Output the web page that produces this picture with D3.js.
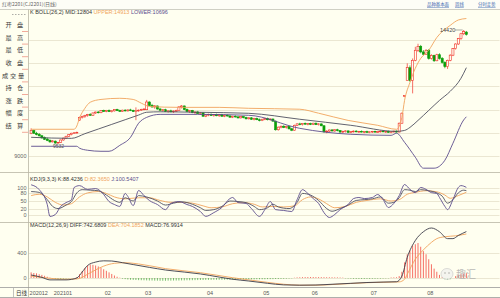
<!DOCTYPE html>
<html lang="zh">
<head>
<meta charset="utf-8">
<title>红枣2201 日线</title>
<script src="https://cdnjs.cloudflare.com/ajax/libs/d3/7.8.5/d3.min.js"></script>
<style>
  html, body { margin: 0; padding: 0; background: #fffff0; }
  svg { display: block; font-family: "Liberation Sans", Arial, sans-serif; }
  .cn { font-family: "Noto Sans CJK SC", sans-serif; }
</style>
</head>
<body>
<svg width="500" height="298"></svg>
<script>
// ---- daily bars, CJ2201 (Dec 2020 - Aug 2021) ----
var open = [
  9990,10100,9990,9940,9880,9800,9740,9690,9620,9650,
  9570,9600,9700,9780,9860,9930,9990,10010,10550,10660,
  10700,10750,10790,10760,10860,10900,10870,10960,10930,10970,
  10920,10950,11010,10960,10930,10980,10950,10990,10970,10930,
  10950,10980,11010,11000,11330,11180,11120,11160,11030,10980,
  11000,10930,10950,10910,10940,10960,11120,11160,11010,10930,
  10960,10880,10900,10840,10860,10720,10770,10800,10750,10790,
  10740,10780,10720,10760,10730,10680,10720,10690,10650,10700,
  10660,10610,10650,10590,10620,10570,10530,10590,10620,10570,
  10600,10510,10140,10250,10290,10240,10280,10180,10120,10330,
  10390,10360,10410,10380,10400,10370,10420,10360,10390,10310,
  10050,10080,10130,10090,10140,10100,10040,10070,10090,10030,
  10060,10080,10050,10070,10040,10060,10030,10050,10070,10040,
  10060,10080,10050,10070,10030,10050,10080,10040,10420,11560,
  12260,12800,12260,13120,13550,13720,13480,13380,13550,13200,
  13330,13100,13360,13200,13030,12850,13120,13340,13620,13820,
  14050,14260,14330];
var high = [
  10200,10140,10050,10000,9920,9850,9800,9720,9700,9680,
  9620,9720,9800,9880,9950,10010,10040,10060,10700,10740,
  10780,10820,10850,10880,10920,10940,10980,11000,10990,11010,
  10980,11030,11040,11000,11000,11020,11010,11040,11000,11100,
  11010,11040,11060,11420,11360,11250,11200,11180,11080,11030,
  11040,10980,11000,10970,11000,11150,11200,11180,11050,10990,
  10990,10930,10950,10900,10880,10800,10830,10840,10810,10830,
  10800,10820,10790,10800,10770,10740,10760,10740,10720,10730,
  10700,10680,10680,10650,10660,10620,10610,10650,10660,10630,
  10620,10530,10280,10320,10330,10310,10300,10220,10360,10420,
  10440,10430,10450,10430,10440,10440,10450,10420,10410,10330,
  10120,10150,10170,10160,10180,10130,10100,10120,10110,10080,
  10110,10120,10090,10110,10080,10100,10070,10090,10100,10090,
  10110,10120,10090,10100,10080,10100,10110,10450,10880,11620,
  12990,12900,13200,13700,13830,13780,13560,13600,13600,13380,
  13360,13400,13420,13260,13080,13150,13380,13650,13850,14080,
  14300,14420,14380];
var low = [
  9950,9960,9900,9850,9760,9700,9650,9580,9590,9540,
  9532,9580,9670,9740,9830,9900,9960,9980,10520,10620,
  10650,10700,10740,10740,10820,10840,10850,10900,10890,10900,
  10880,10920,10940,10900,10910,10920,10920,10940,10900,10550,
  10910,10950,10970,10980,11150,11080,11040,11000,10940,10920,
  10900,10870,10890,10860,10900,10940,11050,10980,10900,10860,
  10850,10800,10820,10780,10700,10680,10720,10730,10700,10720,
  10690,10700,10680,10700,10650,10640,10660,10620,10620,10630,
  10580,10580,10560,10540,10550,10500,10510,10550,10540,10530,
  10480,10100,10100,10200,10210,10190,10150,10080,10100,10300,
  10330,10320,10350,10330,10340,10340,10340,10320,10290,10020,
  9990,10040,10060,10050,10070,10010,10000,10020,10000,9990,
  10020,10030,10000,10020,9990,10010,9990,10000,10010,10000,
  10020,10030,10000,10010,9990,10010,10020,10030,10400,11540,
  12260,12200,11700,13080,13480,13420,13330,13350,13150,13150,
  13050,13080,13150,12980,12780,12750,13080,13300,13580,13780,
  14000,14200,14180];
var close = [
  10110,9990,9930,9880,9790,9730,9680,9620,9660,9570,
  9600,9700,9780,9860,9930,9990,10010,10030,10660,10700,
  10750,10790,10760,10860,10900,10870,10960,10930,10970,10920,
  10950,11010,10960,10930,10980,10950,10990,10970,10920,10950,
  10980,11010,11030,11330,11180,11120,11160,11030,10980,11000,
  10930,10950,10910,10940,10960,11120,11160,11010,10930,10960,
  10880,10900,10840,10860,10720,10770,10800,10750,10790,10740,
  10780,10720,10760,10730,10680,10720,10690,10650,10700,10660,
  10610,10650,10590,10620,10570,10530,10590,10620,10570,10600,
  10510,10140,10250,10290,10240,10280,10180,10120,10330,10390,
  10360,10410,10380,10400,10370,10420,10360,10390,10310,10050,
  10080,10130,10090,10140,10100,10040,10070,10090,10030,10060,
  10080,10050,10070,10040,10060,10030,10050,10070,10040,10060,
  10080,10050,10070,10030,10050,10080,10040,10420,10850,11610,
  12810,12260,13120,13550,13720,13480,13380,13550,13200,13330,
  13100,13360,13200,13030,12850,13120,13340,13620,13820,14050,
  14260,14350,14230];

// month labels and the bar index where each month starts
var monthLabels = ["202012", "202101", "02", "03", "04", "05", "06", "07", "08"];
var monthStart = [0, 9, 28, 43, 66, 87, 105, 127, 148];

// BOLL(26,2): [bar index, price]
var bollUpper = [[0,10160],[16,10160],[17,10300],[18,10640],[20,11060],[22,11320],[26,11440],[33,11490],
  [38,11440],[41,11280],[44,11140],[55,11100],[70,11100],[81,11060],[100,11020],[107,10850],[118,10540],
  [129,10330],[136,10160],[138,10670],[139,11400],[141,12170],[143,12780],[145,13200],[148,13550],
  [151,14100],[156,14620],[159,14850],[162,14913]];
var bollMid = [[0,9815],[15,9770],[20,9970],[25,10170],[30,10370],[35,10570],[40,10770],[43,10890],
  [48,10910],[62,10890],[81,10845],[100,10590],[119,10330],[136,10070],[139,10110],[141,10240],
  [144,10540],[148,10970],[152,11400],[156,11790],[160,12350],[162,12804]];
var bollLower = [[0,9430],[17,9430],[18,9350],[21,9260],[26,9215],[29,9215],[33,9470],[37,9815],
  [40,10420],[43,10670],[48,10800],[62,10800],[81,10760],[100,10200],[119,9945],[134,9900],[136,9990],
  [139,9600],[143,8960],[146,8490],[150,8490],[154,8830],[157,9560],[161,10560],[162,10696]];

// KDJ(9,3,3): [bar index, value]
var kdjK = [[0,85],[3,82],[6,55],[8,30],[10,22],[13,35],[15,48],[17,80],[19,92],[22,90],[25,88],[28,72],
  [31,52],[33,45],[35,62],[38,50],[40,70],[43,65],[47,50],[50,35],[53,42],[56,47],[60,38],[63,25],[65,15],
  [68,18],[71,30],[74,50],[77,48],[80,44],[83,30],[85,18],[88,25],[90,38],[92,28],[96,22],[99,45],[101,78],
  [104,72],[107,52],[110,22],[112,12],[115,22],[118,35],[121,52],[124,55],[127,58],[130,65],[133,42],
  [135,45],[137,62],[139,92],[141,90],[143,85],[145,92],[148,88],[151,80],[153,68],[155,42],[157,55],
  [159,80],[161,90],[162,88.4236]];
var kdjD = [[0,70],[3,75],[6,65],[9,45],[12,35],[15,40],[18,65],[21,80],[25,85],[28,78],[31,65],[35,58],
  [40,62],[44,62],[48,52],[52,45],[56,45],[60,42],[64,32],[67,25],[71,28],[75,40],[79,44],[83,38],[86,28],
  [90,30],[94,28],[98,32],[101,55],[104,65],[107,58],[110,40],[113,25],[117,30],[121,45],[125,52],[130,58],
  [134,50],[137,55],[140,75],[143,82],[147,88],[151,84],[154,72],[156,60],[159,70],[162,82.365]];
var kdjJ = [[0,110],[3,92],[6,37],[7,-7],[9,0],[11,30],[13,44],[15,55],[16,100],[18,107],[21,93],[24,96],
  [27,74],[29,48],[31,37],[33,30],[35,78],[36,67],[38,33],[40,89],[42,70],[44,52],[47,37],[50,18],[52,41],
  [55,48],[58,37],[60,30],[63,11],[65,-7],[68,7],[71,26],[74,59],[75,63],[77,44],[80,41],[82,22],[85,-7],
  [87,18],[89,48],[91,18],[94,15],[97,11],[99,55],[101,92],[103,78],[105,59],[107,41],[109,7],[111,-11],
  [113,0],[115,18],[118,37],[120,59],[122,63],[124,59],[127,63],[129,74],[131,55],[133,26],[135,41],
  [137,70],[139,111],[141,93],[143,81],[145,100],[147,93],[149,81],[151,78],[152,63],[154,30],[155,18],
  [157,55],[159,100],[160,107],[162,100.5407]];

// MACD(12,26,9)
var macdDiff = [[0,48],[4,10],[7,-30],[13,-30],[17,0],[19,96],[21,200],[24,255],[27,275],[30,272],[34,245],
  [38,215],[44,170],[50,128],[57,95],[63,65],[70,15],[75,-20],[81,-48],[88,-85],[94,-110],[100,-115],
  [106,-112],[112,-100],[119,-85],[125,-72],[131,-65],[136,-60],[138,30],[140,330],[143,600],[146,740],
  [149,800],[152,740],[155,630],[157,630],[159,680],[162,742.6809]];
var macdDea = [[0,32],[7,-5],[13,-20],[17,-15],[19,10],[21,60],[24,130],[27,190],[31,235],[35,245],[40,225],
  [50,150],[63,85],[75,5],[81,-30],[88,-70],[94,-100],[100,-115],[106,-115],[112,-105],[119,-88],[125,-75],
  [131,-68],[137,-62],[139,-20],[140,60],[143,300],[146,450],[149,570],[151,630],[154,660],[158,675],
  [162,704.1852]];
var macdHist = [
  90,80,75,60,50,35,20,5,-10,-15,
  -20,-15,-10,-8,-5,-3,0,15,60,110,
  160,200,215,210,200,185,165,140,115,90,
  65,40,20,5,-10,-18,-24,-28,-30,-32,
  -34,-35,-36,-38,-40,-40,-42,-42,-44,-44,
  -44,-42,-42,-40,-40,-40,-38,-38,-36,-36,
  -35,-34,-33,-32,-32,-30,-30,-30,-28,-28,
  -28,-28,-27,-26,-26,-26,-26,-25,-25,-24,
  -24,-22,-22,-22,-20,-20,-20,-20,-18,-18,
  -18,-16,-16,-14,-12,-10,-8,-5,5,10,
  12,14,15,16,16,16,15,15,14,14,
  13,12,12,10,10,8,6,-5,-8,-10,
  -12,-14,-14,-15,-15,-14,-14,-12,-12,-10,
  -10,-8,-6,-5,8,10,12,30,100,250,
  380,440,520,540,560,500,430,380,300,220,
  150,100,50,15,-20,-30,-20,0,30,50,
  60,70,76.9914];

var priceTicks = [9000, 10000, 11000, 12000, 13000, 14000];
var kdjTicks = [0, 20, 50, 80, 100];
var macdTicks = [0, 400];
var buttons = ["开盘", "最高", "最低", "收盘", "成交量", "持仓", "涨跌", "幅度", "结算"];
var links = ["品种基本面", "周线", "分时走势"];

// ---- layout ----
var bg = "#fffff0", gridC = "#ebe7d2", frameC = "#b9b6a4";
var red = "#f03028", green = "#0a9e0a", orange = "#f0a45c", mid = "#4f5060", purple = "#5b4c8c";
var svg = d3.select("svg");
var L = 28.5, R = 499.5;
var panelBottom = 137;   // the button column covers the price labels above this
var panel = { main: [9.5, 172.5], kdj: [172.5, 222.5], macd: [222.5, 287.5] };

var x = d3.scaleBand().domain(d3.range(close.length)).range([29.5, 468]).padding(0.22);
function cx(i) { return x(i) + x.bandwidth() / 2; }
var y = d3.scaleLinear().domain([9000, 14000]).range([156.3, 39.8]);
var yK = d3.scaleLinear().domain([0, 100]).range([214.5, 187.5]);
var yM = d3.scaleLinear().domain([0, 400]).range([278, 253]);

svg.append("rect").attr("width", 500).attr("height", 298).attr("fill", bg);
svg.append("rect").attr("width", 500).attr("height", 9).attr("fill", "#fdfdf6");

var defs = svg.append("defs");
Object.keys(panel).forEach(function(k) {
  defs.append("clipPath").attr("id", "clip-" + k).append("rect")
    .attr("x", L).attr("y", panel[k][0]).attr("width", R - L).attr("height", panel[k][1] - panel[k][0]);
});

function grid(ticks, scale) {
  svg.append("g").selectAll("line").data(ticks).enter().append("line")
    .attr("x1", L).attr("x2", R)
    .attr("y1", function(d) { return Math.round(scale(d)) + 0.5; })
    .attr("y2", function(d) { return Math.round(scale(d)) + 0.5; })
    .attr("stroke", gridC).attr("stroke-width", 1);
}
grid(priceTicks, y);
grid(kdjTicks, yK);
grid(macdTicks, yM);

function labels(ticks, scale) {
  svg.append("g").selectAll("text").data(ticks.filter(function(d) { return scale(d) > panelBottom; }))
    .enter().append("text")
    .attr("x", 26.5).attr("y", function(d) { return scale(d) + 2; })
    .attr("text-anchor", "end").attr("font-size", 5.5).attr("fill", "#666")
    .text(function(d) { return d; });
}
labels(priceTicks, y);
labels(kdjTicks, yK);
labels(macdTicks, yM);

// ---- candles ----
var gMain = svg.append("g").attr("clip-path", "url(#clip-main)");
var bars = gMain.selectAll("g.bar").data(d3.range(close.length)).enter().append("g");
bars.append("line")
  .attr("x1", cx).attr("x2", cx)
  .attr("y1", function(i) { return y(high[i]); })
  .attr("y2", function(i) { return y(low[i]); })
  .attr("stroke", function(i) { return close[i] >= open[i] ? red : green; })
  .attr("stroke-width", 0.7);
bars.append("rect")
  .attr("x", function(i) { return x(i); })
  .attr("width", x.bandwidth())
  .attr("y", function(i) { return y(Math.max(open[i], close[i])); })
  .attr("height", function(i) { return Math.max(0.7, Math.abs(y(open[i]) - y(close[i]))); })
  .attr("fill", function(i) { return close[i] >= open[i] ? bg : green; })
  .attr("stroke", function(i) { return close[i] >= open[i] ? red : green; })
  .attr("stroke-width", 0.6);

function path(g, pts, scale, color) {
  g.append("path").datum(pts)
    .attr("fill", "none").attr("stroke", color).attr("stroke-width", 0.9)
    .attr("d", d3.line().x(function(d) { return cx(d[0]); }).y(function(d) { return scale(d[1]); })
      .curve(d3.curveMonotoneX));
}
path(gMain, bollUpper, y, orange);
path(gMain, bollMid, y, mid);
path(gMain, bollLower, y, purple);

// high / low marks
var hi = d3.maxIndex(high), lo = d3.minIndex(low);
svg.append("line").attr("x1", 455).attr("x2", cx(hi) - 1).attr("y1", y(high[hi])).attr("y2", y(high[hi]))
  .attr("stroke", "#555").attr("stroke-width", 0.5);
svg.append("text").attr("x", 440).attr("y", y(high[hi]) + 2).attr("font-size", 5.5).attr("fill", "#444").text(high[hi]);
svg.append("text").attr("x", cx(lo) - 5).attr("y", y(low[lo]) + 4).attr("font-size", 5).attr("fill", "#555").text(low[lo]);

// ---- KDJ ----
var gK = svg.append("g").attr("clip-path", "url(#clip-kdj)");
path(gK, kdjD, yK, orange);
path(gK, kdjK, yK, mid);
path(gK, kdjJ, yK, purple);

// ---- MACD ----
var gM = svg.append("g").attr("clip-path", "url(#clip-macd)");
gM.selectAll("line").data(d3.range(macdHist.length)).enter().append("line")
  .attr("x1", cx).attr("x2", cx)
  .attr("y1", yM(0)).attr("y2", function(i) { return yM(macdHist[i]); })
  .attr("stroke", function(i) { return macdHist[i] >= 0 ? red : "#3aa53a"; })
  .attr("stroke-width", 0.7);
path(gM, macdDea, yM, orange);
path(gM, macdDiff, yM, "#3b3b48");

// ---- left button panel ----
svg.append("rect").attr("x", 0).attr("y", 9).attr("width", L).attr("height", panelBottom - 9).attr("fill", bg);
svg.append("line").attr("x1", 12).attr("x2", 26).attr("y1", 14.5).attr("y2", 14.5)
  .attr("stroke", "#777").attr("stroke-width", 0.6).attr("stroke-dasharray", "1.5,1.5");
buttons.forEach(function(b, r) {
  var cy = 25 + r * 12.6;
  var chars = b.split("");
  var xs = chars.length === 3 ? [5, 13, 21] : [8.5, 20];
  chars.forEach(function(c, j) {
    svg.append("text").attr("class", "cn").attr("x", xs[j]).attr("y", cy + 2.2)
      .attr("text-anchor", "middle").attr("font-size", 6.2).attr("fill", "#3a3a3a").text(c);
  });
  svg.append("line").attr("x1", 22).attr("x2", 28).attr("y1", cy + 6.5).attr("y2", cy + 6.5)
    .attr("stroke", "#e87060").attr("stroke-width", 0.6);
});

// ---- frames ----
svg.append("line").attr("x1", 0).attr("x2", 500).attr("y1", 9.5).attr("y2", 9.5).attr("stroke", "#cfcfc4");
svg.append("line").attr("x1", L).attr("x2", L).attr("y1", 9.5).attr("y2", 297).attr("stroke", frameC).attr("stroke-width", 0.8);
[panel.main[1], panel.kdj[1]].forEach(function(yy) {
  svg.append("line").attr("x1", 0).attr("x2", 500).attr("y1", yy).attr("y2", yy).attr("stroke", frameC).attr("stroke-width", 0.8);
});
svg.append("line").attr("x1", 0).attr("x2", 500).attr("y1", panel.macd[1]).attr("y2", panel.macd[1]).attr("stroke", "#999").attr("stroke-width", 0.8);
svg.append("line").attr("x1", 0).attr("x2", 500).attr("y1", 297.5).attr("y2", 297.5).attr("stroke", "#999").attr("stroke-width", 0.8);
svg.append("line").attr("x1", 13.5).attr("x2", 13.5).attr("y1", 288).attr("y2", 297).attr("stroke", "#999").attr("stroke-width", 0.6);

// x axis
svg.append("text").attr("class", "cn").attr("x", 16).attr("y", 294.5).attr("font-size", 5.5).attr("fill", "#333").text("日线");
svg.append("g").selectAll("text").data(monthLabels).enter().append("text")
  .attr("x", function(d, i) { return x(monthStart[i]) - 0.5; })
  .attr("y", 294.5).attr("font-size", 5.5).attr("fill", "#555").text(function(d) { return d; });

// ---- legends ----
function legend(yy, parts) {
  var t = svg.append("text").attr("x", 30).attr("y", yy).attr("font-size", 5.5);
  parts.forEach(function(p) { t.append("tspan").attr("fill", p[1]).text(p[0]); });
}
var n = close.length - 1;
legend(14, [["K  BOLL(26,2) MID:" + bollMid[bollMid.length - 1][1] + " ", "#333"],
  ["UPPER:" + bollUpper[bollUpper.length - 1][1] + " ", orange],
  ["LOWER:" + bollLower[bollLower.length - 1][1], purple]]);
legend(181, [["KDJ(9,3,3) K:" + kdjK[kdjK.length - 1][1].toFixed(4) + " ", "#333"],
  ["D:" + kdjD[kdjD.length - 1][1].toFixed(4) + " ", orange],
  ["J:" + kdjJ[kdjJ.length - 1][1].toFixed(4), purple]]);
legend(226.5, [["MACD(12,26,9) DIFF:" + macdDiff[macdDiff.length - 1][1].toFixed(4) + " ", "#333"],
  ["DEA:" + macdDea[macdDea.length - 1][1].toFixed(4) + " ", orange],
  ["MACD:" + macdHist[n].toFixed(4), "#333"]]);

// ---- title bar ----
svg.append("text").attr("class", "cn").attr("x", 2).attr("y", 6.3).attr("font-size", 5).attr("fill", "#666")
  .text("红枣2201(CJ2201)(日线)");
var lx = [427, 455, 478];
links.forEach(function(s, i) {
  svg.append("text").attr("class", "cn").attr("x", lx[i]).attr("y", 6.3).attr("font-size", 4.4)
    .attr("fill", "#3a66b0").attr("text-decoration", "underline").text(s);
});

// watermark
var wm = svg.append("g").attr("opacity", 0.8);
wm.append("ellipse").attr("cx", 447).attr("cy", 274).attr("rx", 6).attr("ry", 5.5).attr("fill", "#f2f2ee").attr("stroke", "#c9c9c9").attr("stroke-width", 0.8);
wm.append("circle").attr("cx", 445).attr("cy", 273).attr("r", 0.8).attr("fill", "#999");
wm.append("circle").attr("cx", 449).attr("cy", 273).attr("r", 0.8).attr("fill", "#999");
wm.append("text").attr("class", "cn").attr("x", 456).attr("y", 278).attr("font-size", 10).attr("fill", "#aaa").text("趣汇");
</script>
</body>
</html>
